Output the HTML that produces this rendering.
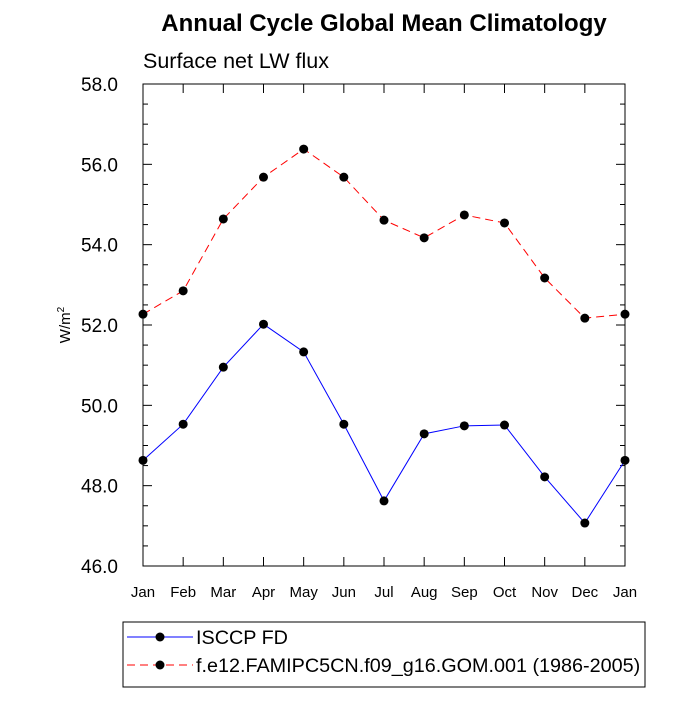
<!DOCTYPE html>
<html><head><meta charset="utf-8"><style>
body{margin:0;background:#fff;}
svg text{font-family:"Liberation Sans",Arial,sans-serif;}
</style></head><body>
<svg id="chart" width="700" height="700" xmlns="http://www.w3.org/2000/svg">
<text x="384" y="31" text-anchor="middle" font-size="24" font-weight="bold">Annual Cycle Global Mean Climatology</text>
<text x="143" y="68" font-size="21.5">Surface net LW flux</text>
<text transform="translate(70,325) rotate(-90)" text-anchor="middle" font-size="15">W/m<tspan dy="-6" font-size="10">2</tspan></text>
<g id="axes"></g>
<g id="series"></g>
<g>
<rect x="123" y="622" width="522" height="65" fill="none" stroke="#000" stroke-width="1"/>
<line x1="127" y1="637" x2="193" y2="637" stroke="#0000ff" stroke-width="1"/>
<circle cx="160" cy="637" r="4.5" fill="#000"/>
<text x="196" y="644" font-size="19.8">ISCCP FD</text>
<line x1="127" y1="665" x2="193" y2="665" stroke="#ff0000" stroke-width="1" stroke-dasharray="8,5"/>
<circle cx="160" cy="665" r="4.5" fill="#000"/>
<text x="196" y="672" font-size="19.8">f.e12.FAMIPC5CN.f09_g16.GOM.001 (1986-2005)</text>
</g>
</svg>
<script>
const months = ["Jan","Feb","Mar","Apr","May","Jun","Jul","Aug","Sep","Oct","Nov","Dec","Jan"];
const obsValues = [48.63,49.53,50.95,52.02,51.33,49.53,47.62,49.29,49.49,49.51,48.22,47.07,48.63];
const modelValues = [52.27,52.85,54.64,55.68,56.38,55.68,54.61,54.17,54.74,54.54,53.17,52.17,52.27];
const yTicks = [46,48,50,52,54,56,58];
const yTickLabels = ["46.0","48.0","50.0","52.0","54.0","56.0","58.0"];

const L=143,R=625,T=84,B=566,ymin=46,ymax=58;
const NS="http://www.w3.org/2000/svg";
const xs=i=>L+(R-L)*i/(months.length-1);
const ys=v=>B-(B-T)*(v-ymin)/(ymax-ymin);
function mk(tag,attrs,parent){const e=document.createElementNS(NS,tag);for(const k in attrs)e.setAttribute(k,attrs[k]);parent.appendChild(e);return e;}
const axes=document.getElementById('axes');
const frame=mk('rect',{x:L,y:T,width:R-L,height:B-T,fill:'none',stroke:'#000','stroke-width':1},axes);


months.forEach((m,i)=>{
  const x=xs(i);
  mk('line',{x1:x,y1:B,x2:x,y2:B-9,stroke:'#000'},axes);
  mk('line',{x1:x,y1:T,x2:x,y2:T+9,stroke:'#000'},axes);
  const t=mk('text',{x:x,y:B+31,'text-anchor':'middle','font-size':15},axes);
  t.textContent=m;
  
  
});
for(let v=ymin;v<=ymax+1e-9;v+=0.5){
  const y=ys(v);const major=Math.abs(v-Math.round(v/2)*2)<1e-9;const len=major?9:5;
  mk('line',{x1:L,y1:y,x2:L+len,y2:y,stroke:'#000'},axes);
  mk('line',{x1:R,y1:y,x2:R-len,y2:y,stroke:'#000'},axes);
}
yTicks.forEach((v,i)=>{
  const t=mk('text',{x:L-25,y:ys(v)+7,'text-anchor':'end','font-size':19},axes);
  t.textContent=yTickLabels[i];
  
  
});
const series=document.getElementById('series');
function draw(vals,color,dash,name){
  const pts=vals.map((v,i)=>xs(i)+','+ys(v)).join(' ');
  const pl=mk('polyline',{points:pts,fill:'none',stroke:color,'stroke-width':1},series);
  if(dash)pl.setAttribute('stroke-dasharray',dash);
  
  
  vals.forEach((v,i)=>{
    const c=mk('circle',{cx:xs(i),cy:ys(v),r:4.5,fill:'#000'},series);
    
    
  });
}
draw(modelValues,'#ff0000','8,5','model');
draw(obsValues,'#0000ff',null,'isccp');
</script>
</body></html>
